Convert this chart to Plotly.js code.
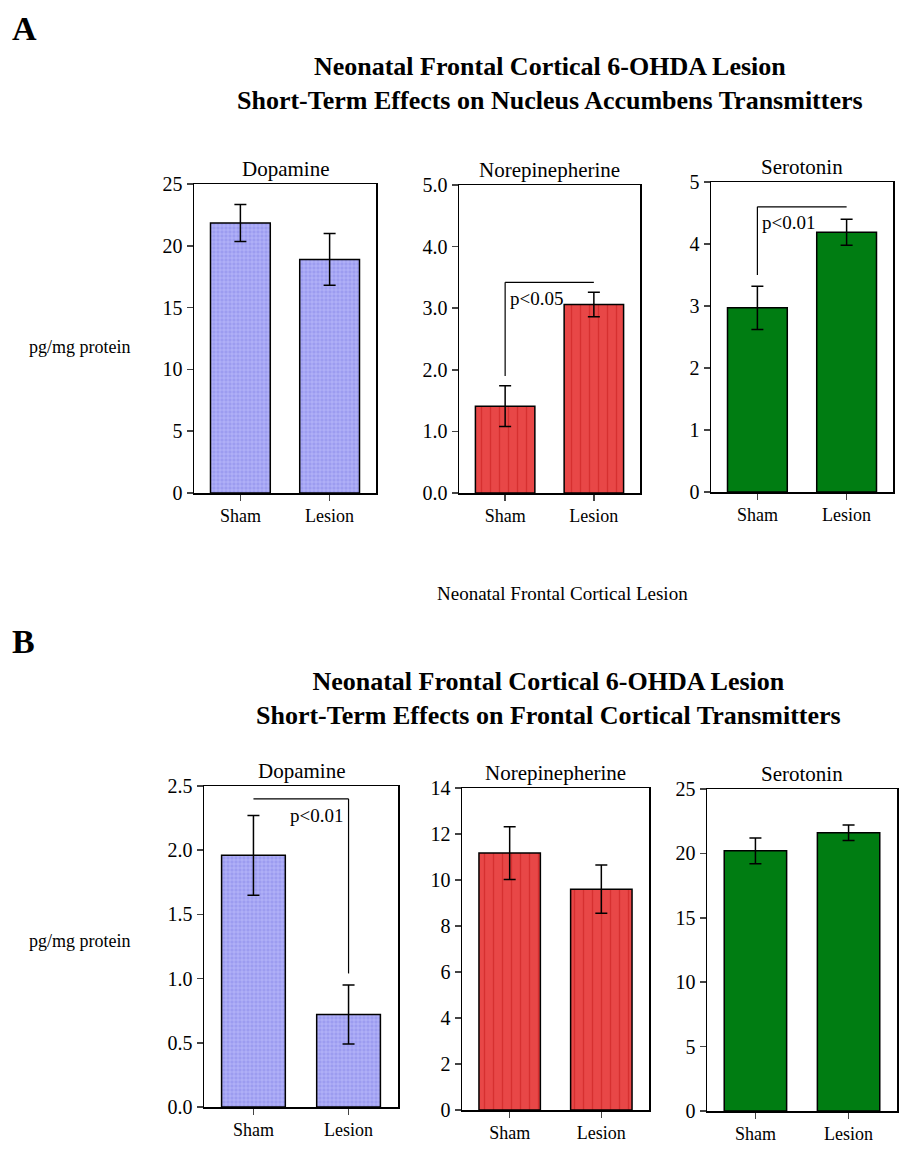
<!DOCTYPE html>
<html>
<head>
<meta charset="utf-8">
<script src="https://cdn.plot.ly/plotly-3.0.1.min.js"></script>
<style>
  body { margin: 0; background: #fff; }
  #plot { width: 916px; height: 1164px; }
</style>
</head>
<body>
<div id="plot"></div>
<script>
// Data (means and error half-widths, pg/mg protein)
const categories = ['Sham', 'Lesion'];
const transmitters = ['Dopamine', 'Norepinepherine', 'Serotonin'];

// Panel A: nucleus accumbens
const naccDopamine = [21.85, 18.9];
const naccDopamineErr = [1.5, 2.1];
const naccNorepi = [1.41, 3.06];
const naccNorepiErr = [0.33, 0.2];
const naccSerotonin = [2.97, 4.19];
const naccSerotoninErr = [0.35, 0.21];

// Panel B: frontal cortex
const fcDopamine = [1.96, 0.72];
const fcDopamineErr = [0.31, 0.23];
const fcNorepi = [11.17, 9.6];
const fcNorepiErr = [1.15, 1.05];
const fcSerotonin = [20.2, 21.6];
const fcSerotoninErr = [1.0, 0.6];

// y axis maxima and tick steps
const yMax = [25, 5, 5, 2.5, 14, 25];
const yStep = [5, 1, 1, 0.5, 2, 5];

// significance brackets: [low end, top] heights and label height
const naccNorepiBracket = [1.90, 3.42];
const naccSerotoninBracket = [3.5, 4.6];
const fcDopamineBracket = [1.04, 2.40];
const pLabels = ['p<0.05', 'p<0.01', 'p<0.01'];
const pLabelY = [3.15, 4.35, 2.27];

const W = 916, H = 1164;
const FONT = 'Liberation Serif, Times New Roman, serif';

// pixel boxes of each plot frame [left, top, right, bottom]
const frames = [
    [194, 184, 376, 493],
    [459, 185, 640, 493],
    [711, 182, 893, 492],
    [204, 786, 398, 1107],
    [462, 788, 649, 1110],
    [707, 789, 897, 1111]
];

const means = [naccDopamine, naccNorepi, naccSerotonin, fcDopamine, fcNorepi, fcSerotonin];
const errs = [naccDopamineErr, naccNorepiErr, naccSerotoninErr, fcDopamineErr, fcNorepiErr, fcSerotoninErr];

// bar fill styles per transmitter
const fills = [
    { color: '#a0a0f2', pattern: { shape: '+', fgcolor: '#c6c6ff', bgcolor: '#9c9cf0', size: 4, solidity: 0.25 } },
    { color: '#e64242', pattern: { shape: '|', fgcolor: '#d63030', bgcolor: '#e84747', size: 9, solidity: 0.15 } },
    { color: '#007d12' }
];

const traces = [];
const layout = {
    width: W,
    height: H,
    margin: { l: 0, r: 0, t: 0, b: 0 },
    showlegend: false,
    paper_bgcolor: 'white',
    plot_bgcolor: 'white',
    font: { family: FONT, size: 18, color: 'black' },
    annotations: [],
    shapes: []
};

for (let i = 0; i < 6; i++) {
    const f = frames[i];
    const suffix = i === 0 ? '' : String(i + 1);
    const fill = fills[i % 3];

    const marker = {
        color: fill.color,
        line: { color: 'black', width: 1.5 }
    };
    if (fill.pattern) marker.pattern = fill.pattern;

    traces.push({
        type: 'bar',
        x: categories,
        y: means[i],
        xaxis: 'x' + suffix,
        yaxis: 'y' + suffix,
        width: 0.67,
        marker: marker,
        error_y: {
            type: 'data',
            array: errs[i],
            visible: true,
            color: 'black',
            thickness: 1.5,
            width: 6
        },
        hoverinfo: 'y'
    });

    layout['xaxis' + suffix] = {
        domain: [f[0] / W, f[2] / W],
        anchor: 'y' + suffix,
        type: 'category',
        range: [-0.52, 1.52],
        showline: true,
        mirror: true,
        linecolor: 'black',
        linewidth: 1.5,
        ticks: 'outside',
        ticklen: 6,
        tickwidth: 1.5,
        showgrid: false,
        zeroline: false,
        tickfont: { family: FONT, size: 18 },
        fixedrange: true
    };
    layout['yaxis' + suffix] = {
        domain: [1 - f[3] / H, 1 - f[1] / H],
        anchor: 'x' + suffix,
        range: [0, yMax[i]],
        dtick: yStep[i],
        tick0: 0,
        tickformat: (i === 1 || i === 3) ? '.1f' : 'd',
        showline: true,
        mirror: true,
        linecolor: 'black',
        linewidth: 1.5,
        ticks: 'outside',
        ticklen: 6,
        tickwidth: 1.5,
        showgrid: false,
        zeroline: false,
        tickfont: { family: FONT, size: 20 },
        fixedrange: true
    };

    // subplot title
    layout.annotations.push({
        text: transmitters[i % 3],
        xref: 'paper', yref: 'paper',
        x: (f[0] + f[2]) / 2 / W,
        y: 1 - f[1] / H,
        xanchor: 'center', yanchor: 'bottom',
        yshift: 1,
        showarrow: false,
        font: { family: FONT, size: 21 }
    });
}

// significance brackets
function line(ax, x0, y0, x1, y1) {
    layout.shapes.push({
        type: 'line', xref: 'x' + ax, yref: 'y' + ax,
        x0: x0, y0: y0, x1: x1, y1: y1,
        line: { color: 'black', width: 1.2 }
    });
}
line('2', 0, naccNorepiBracket[0], 0, naccNorepiBracket[1]);
line('2', 0, naccNorepiBracket[1], 1, naccNorepiBracket[1]);
line('3', 0, naccSerotoninBracket[0], 0, naccSerotoninBracket[1]);
line('3', 0, naccSerotoninBracket[1], 1, naccSerotoninBracket[1]);
line('4', 0, fcDopamineBracket[1], 1, fcDopamineBracket[1]);
line('4', 1, fcDopamineBracket[1], 1, fcDopamineBracket[0]);

layout.annotations.push(
    { text: pLabels[0], xref: 'x2', yref: 'y2', x: 0, y: pLabelY[0], xanchor: 'left', yanchor: 'middle', xshift: 3, showarrow: false, font: { family: FONT, size: 19 } },
    { text: pLabels[1], xref: 'x3', yref: 'y3', x: 0, y: pLabelY[1], xanchor: 'left', yanchor: 'middle', xshift: 3, showarrow: false, font: { family: FONT, size: 19 } },
    { text: pLabels[2], xref: 'x4', yref: 'y4', x: 1, y: pLabelY[2], xanchor: 'right', yanchor: 'middle', xshift: -4, showarrow: false, font: { family: FONT, size: 19 } }
);

// panel letters, titles and shared labels
function paperText(text, px, py, size, bold, anchor) {
    layout.annotations.push({
        text: bold ? '<b>' + text + '</b>' : text,
        xref: 'paper', yref: 'paper',
        x: px / W, y: 1 - py / H,
        xanchor: anchor || 'center', yanchor: 'middle',
        showarrow: false,
        font: { family: FONT, size: size }
    });
}
paperText('A', 10, 28, 34, true, 'left');
paperText('Neonatal Frontal Cortical 6-OHDA Lesion<br>Short-Term Effects on Nucleus Accumbens Transmitters', 550, 84, 26, true);
paperText('pg/mg protein', 80, 347, 18, false);
paperText('Neonatal Frontal Cortical Lesion', 562, 593, 19, false);

paperText('B', 10, 641, 34, true, 'left');
paperText('Neonatal Frontal Cortical 6-OHDA Lesion<br>Short-Term Effects on Frontal Cortical Transmitters', 548, 698, 26, true);
paperText('pg/mg protein', 80, 941, 18, false);

Plotly.newPlot('plot', traces, layout, { staticPlot: true });
</script>
</body>
</html>
